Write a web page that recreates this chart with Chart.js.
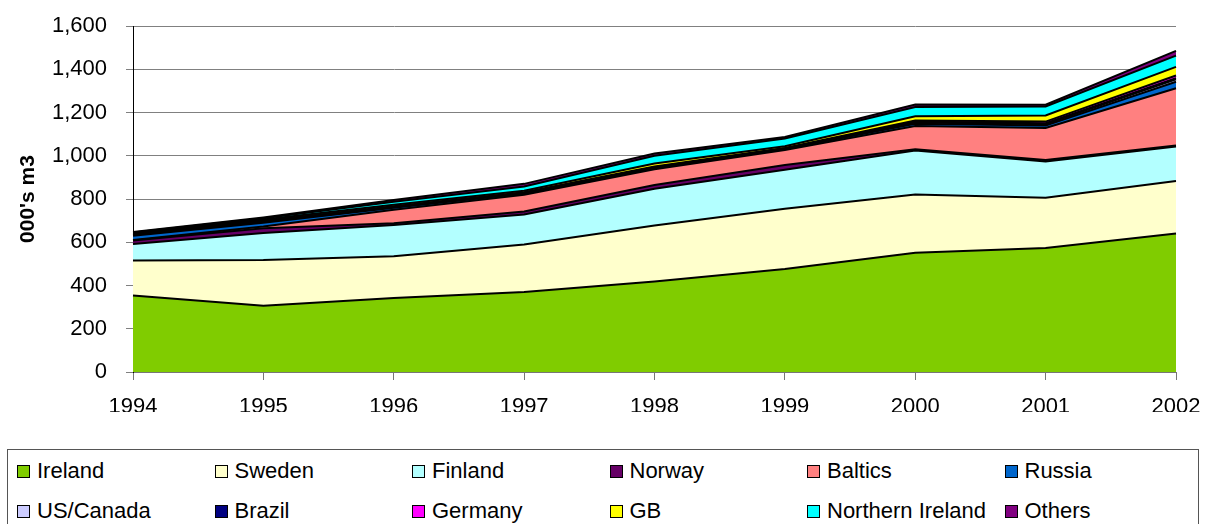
<!DOCTYPE html>
<html>
<head>
<meta charset="utf-8">
<script src="https://cdn.jsdelivr.net/npm/chart.js@4/dist/chart.umd.min.js"></script>
<style>
    body { margin: 0; background: #fff; }
    #wrap { position: relative; width: 1208px; height: 524px; overflow: hidden; }
    #chart { position: absolute; left: 0; top: 0; }
    #legend {
        position: absolute; left: 7px; top: 449px; width: 1192px; height: 100px;
        border: 1px solid #555; box-sizing: border-box;
        font-family: "Liberation Sans", Arial, sans-serif; font-size: 22px; color: #000;
    }
    .item { position: absolute; display: flex; align-items: center; white-space: nowrap; height: 26px; }
    .box { width: 11px; height: 11px; border: 1px solid #000; margin-right: 7px; }
</style>
</head>
<body>
<div id="wrap">
    <canvas id="chart" width="1208" height="445"></canvas>
    <div id="legend"></div>
</div>
<script>
// values in 000's m3
var years = ['1994', '1995', '1996', '1997', '1998', '1999', '2000', '2001', '2002'];
var ireland = [354, 306, 342, 370, 419, 476, 551, 573, 640];
var sweden = [162, 212, 193, 220, 258, 279, 270, 233, 243];
var finland = [76, 125, 145, 138, 170, 180, 203, 168, 160];
var norway = [16, 22, 8, 14, 18, 22, 6, 6, 4];
var baltics = [2, 8, 62, 78, 72, 70, 108, 148, 265];
var russia = [20, 17, 9, 5, 5, 4, 10, 12, 30];
var usCanada = [3, 4, 3, 2, 3, 2, 6, 6, 12];
var brazil = [2, 3, 2, 2, 2, 1, 4, 4, 5];
var germany = [2, 3, 3, 2, 3, 2, 5, 8, 12];
var gb = [4, 5, 6, 7, 14, 8, 20, 28, 40];
var northernIreland = [4, 6, 14, 20, 36, 36, 42, 42, 52];
var others = [3, 4, 8, 12, 10, 7, 12, 8, 22];

var seriesNames = ['Ireland', 'Sweden', 'Finland', 'Norway', 'Baltics', 'Russia',
    'US/Canada', 'Brazil', 'Germany', 'GB', 'Northern Ireland', 'Others'];
var seriesValues = [ireland, sweden, finland, norway, baltics, russia,
    usCanada, brazil, germany, gb, northernIreland, others];
var seriesColors = ['#80CC00', '#FFFFCC', '#B3FFFF', '#660066', '#FF8080', '#0066CC',
    '#CCCCFF', '#000080', '#FF00FF', '#FFFF00', '#00FFFF', '#800080'];

var fontFamily = '"Liberation Sans", Arial, sans-serif';

var datasets = [];
for (let i = 0; i < seriesNames.length; i++) {
    datasets.push({
        label: seriesNames[i],
        data: seriesValues[i],
        backgroundColor: seriesColors[i],
        borderColor: '#000',
        borderWidth: 2,
        pointRadius: 0,
        tension: 0,
        fill: i === 0 ? 'origin' : '-1'
    });
}

const config = {
    type: 'line',
    data: {
        labels: years,
        datasets: datasets
    },
    options: {
        responsive: false,
        animation: false,
        devicePixelRatio: 1,
        layout: {
            padding: { left: 0, right: 32, top: 26, bottom: 33 }
        },
        plugins: {
            legend: { display: false },
            tooltip: { enabled: false }
        },
        scales: {
            x: {
                offset: false,
                grid: {
                    drawOnChartArea: false,
                    drawTicks: true,
                    tickLength: 8,
                    color: '#777'
                },
                border: { color: '#777', width: 1 },
                ticks: {
                    color: '#000',
                    padding: 14,
                    maxRotation: 0,
                    font: { family: fontFamily, size: 22 }
                },
                // fixed size so the plot area lands where the reference has it
                afterFit: function (scale) {
                    scale.height = 40;
                    scale.paddingLeft = 0;
                    scale.paddingRight = 0;
                }
            },
            y: {
                stacked: true,
                min: 0,
                max: 1600,
                grid: {
                    color: '#808080',
                    lineWidth: 1,
                    tickLength: 7
                },
                border: { color: '#000', width: 1 },
                ticks: {
                    stepSize: 200,
                    color: '#000',
                    padding: 19,
                    font: { family: fontFamily, size: 22 },
                    callback: function (value) { return value.toLocaleString('en-US'); }
                },
                title: {
                    display: true,
                    text: "000's m3",
                    color: '#000',
                    padding: { top: 16, bottom: 0 },
                    font: { family: fontFamily, size: 21, weight: 'bold' }
                },
                afterFit: function (scale) {
                    scale.width = 133;
                    scale.paddingTop = 0;
                    scale.paddingBottom = 0;
                }
            }
        }
    }
};

var chart = new Chart(document.getElementById('chart'), config);

// legend box below the chart, 6 columns x 2 rows
var legend = document.getElementById('legend');
for (let i = 0; i < seriesNames.length; i++) {
    var col = i % 6;
    var row = Math.floor(i / 6);
    var item = document.createElement('div');
    item.className = 'item';
    item.style.left = (9 + col * 197.5) + 'px';
    item.style.top = (8 + row * 40) + 'px';
    var box = document.createElement('span');
    box.className = 'box';
    box.style.background = seriesColors[i];
    var text = document.createElement('span');
    text.textContent = seriesNames[i];
    item.appendChild(box);
    item.appendChild(text);
    legend.appendChild(item);
}
</script>
</body>
</html>
